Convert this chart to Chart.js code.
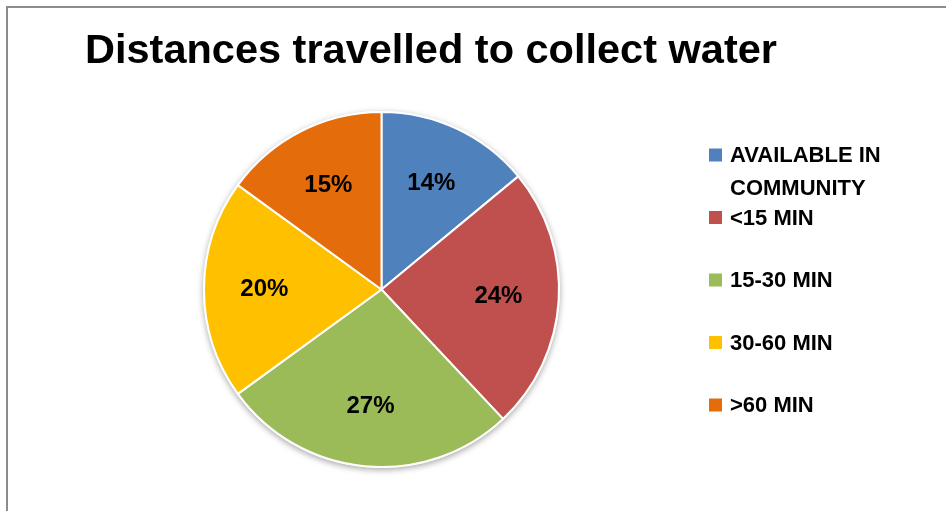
<!DOCTYPE html>
<html>
<head>
<meta charset="utf-8">
<script src="https://cdn.jsdelivr.net/npm/chart.js@4.4.1/dist/chart.umd.min.js"></script>
<style>
  html, body { margin: 0; padding: 0; background: #fff; }
  #wrap { position: relative; width: 946px; height: 511px; }
  #frame { position: absolute; left: 6px; top: 6px; right: -4px; bottom: -4px; border-left: 2px solid #8c8c8c; border-top: 2px solid #8c8c8c; }
  canvas { position: absolute; left: 0; top: 0; }
</style>
</head>
<body>
<div id="wrap">
  <div id="frame"></div>
  <canvas id="chart" width="946" height="511"></canvas>
</div>
<script>
// Share of households by time spent reaching a water source (percent)
const categories = [
  ['AVAILABLE IN', 'COMMUNITY'],
  '<15 MIN',
  '15-30 MIN',
  '30-60 MIN',
  '>60 MIN'
];
const shares = [14, 24, 27, 20, 15];
const colors = ['#4F81BD', '#C0504D', '#9BBB59', '#FFC000', '#E46C0A'];
const chartTitle = 'Distances travelled to collect water';

const FONT = '"Liberation Sans", Arial, sans-serif';

// Heading drawn across the top, left-aligned, at its natural width
const heading = {
  id: 'heading',
  afterDraw(chart, args, opts) {
    const ctx = chart.ctx;
    ctx.save();
    ctx.font = 'bold 41.5px ' + FONT;
    ctx.fillStyle = '#000';
    ctx.textAlign = 'left';
    ctx.textBaseline = 'alphabetic';
    ctx.fillText(opts.text, 85, 63);
    ctx.restore();
  }
};

// Soft shadow under the whole pie
const pieShadow = {
  id: 'pieShadow',
  beforeDatasetsDraw(chart) {
    const arc = chart.getDatasetMeta(0).data[0];
    if (!arc) return;
    const ctx = chart.ctx;
    ctx.save();
    ctx.shadowColor = 'rgba(0,0,0,0.35)';
    ctx.shadowBlur = 6;
    ctx.shadowOffsetY = 2;
    ctx.fillStyle = '#ffffff';
    ctx.beginPath();
    ctx.arc(arc.x, arc.y, arc.outerRadius + 1, 0, Math.PI * 2);
    ctx.fill();
    ctx.restore();
  }
};

// Percentage labels inside each slice
const sliceLabels = {
  id: 'sliceLabels',
  afterDatasetsDraw(chart) {
    const ctx = chart.ctx;
    const meta = chart.getDatasetMeta(0);
    const values = chart.data.datasets[0].data;
    ctx.save();
    ctx.font = 'bold 24px ' + FONT;
    ctx.fillStyle = '#000';
    ctx.textAlign = 'center';
    ctx.textBaseline = 'middle';
    meta.data.forEach((arc, i) => {
      const mid = (arc.startAngle + arc.endAngle) / 2;
      const r = arc.outerRadius * 0.66;
      ctx.fillText(values[i] + '%', arc.x + Math.cos(mid) * r, arc.y + Math.sin(mid) * r);
    });
    ctx.restore();
  }
};

// Legend on the right: square swatch followed by the category name
const sideLegend = {
  id: 'sideLegend',
  afterDraw(chart) {
    const ctx = chart.ctx;
    const labels = chart.data.labels;
    const bg = chart.data.datasets[0].backgroundColor;
    const x0 = 709, y0 = 155, step = 62.5, box = 13, lineH = 33;
    ctx.save();
    ctx.font = 'bold 22px ' + FONT;
    ctx.textBaseline = 'middle';
    ctx.textAlign = 'left';
    labels.forEach((lab, i) => {
      const y = y0 + i * step;
      ctx.fillStyle = bg[i];
      ctx.fillRect(x0, y - box / 2, box, box);
      ctx.fillStyle = '#000';
      const lines = Array.isArray(lab) ? lab : [lab];
      lines.forEach((t, j) => ctx.fillText(t, x0 + 21, y + j * lineH + 1));
    });
    ctx.restore();
  }
};

new Chart(document.getElementById('chart'), {
  type: 'pie',
  data: {
    labels: categories,
    datasets: [{
      data: shares,
      backgroundColor: colors,
      borderColor: '#ffffff',
      borderWidth: 2
    }]
  },
  options: {
    responsive: false,
    animation: false,
    radius: 177.5,
    layout: { padding: { left: 85, right: 268, top: 100, bottom: 32 } },
    plugins: {
      legend: { display: false },
      tooltip: { enabled: false },
      title: { display: false },
      heading: { text: chartTitle }
    }
  },
  plugins: [pieShadow, sliceLabels, sideLegend, heading]
});
</script>
</body>
</html>
